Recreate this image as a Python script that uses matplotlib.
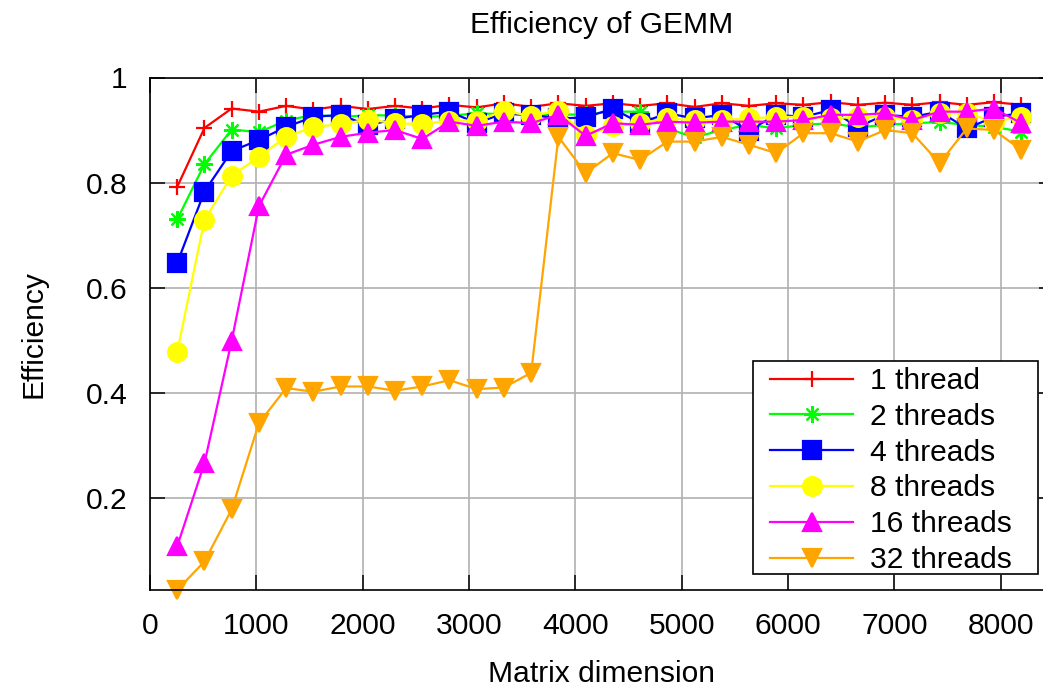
import matplotlib
matplotlib.use('Agg')
import matplotlib.pyplot as plt
from matplotlib.patches import Rectangle

plt.rcParams['font.family'] = ['Liberation Sans', 'DejaVu Sans']
plt.rcParams['font.size'] = 21.6

# matrix dimension
sizes = [256, 512, 768, 1024, 1280, 1536, 1792, 2048, 2304, 2560, 2816, 3072,
         3328, 3584, 3840, 4096, 4352, 4608, 4864, 5120, 5376, 5632, 5888, 6144,
         6400, 6656, 6912, 7168, 7424, 7680, 7936, 8192]

eff_1 = [0.792, 0.904, 0.941, 0.935, 0.946, 0.939, 0.946, 0.940, 0.946, 0.941, 0.948, 0.943,
         0.951, 0.944, 0.951, 0.946, 0.951, 0.946, 0.951, 0.944, 0.951, 0.946, 0.951, 0.948,
         0.953, 0.948, 0.952, 0.948, 0.953, 0.948, 0.953, 0.948]
eff_2 = [0.730, 0.835, 0.901, 0.896, 0.918, 0.929, 0.925, 0.928, 0.928, 0.925, 0.927, 0.932,
         0.930, 0.928, 0.929, 0.930, 0.935, 0.935, 0.903, 0.886, 0.900, 0.910, 0.903, 0.910,
         0.913, 0.905, 0.910, 0.913, 0.915, 0.910, 0.906, 0.897]
eff_4 = [0.647, 0.783, 0.860, 0.881, 0.906, 0.925, 0.929, 0.909, 0.921, 0.929, 0.935, 0.913,
         0.932, 0.929, 0.922, 0.924, 0.941, 0.913, 0.932, 0.922, 0.929, 0.899, 0.929, 0.925,
         0.938, 0.906, 0.929, 0.925, 0.935, 0.903, 0.925, 0.932]
eff_8 = [0.478, 0.729, 0.813, 0.849, 0.887, 0.906, 0.911, 0.920, 0.913, 0.911, 0.918, 0.918,
         0.936, 0.927, 0.937, 0.890, 0.907, 0.913, 0.922, 0.919, 0.919, 0.922, 0.925, 0.925,
         0.922, 0.925, 0.925, 0.919, 0.932, 0.932, 0.916, 0.925]
eff_16 = [0.108, 0.266, 0.499, 0.755, 0.853, 0.872, 0.887, 0.895, 0.900, 0.883, 0.916, 0.908,
          0.916, 0.913, 0.929, 0.889, 0.913, 0.910, 0.916, 0.914, 0.916, 0.916, 0.916, 0.919,
          0.929, 0.929, 0.932, 0.919, 0.935, 0.935, 0.941, 0.913]
eff_32 = [0.0247, 0.079, 0.178, 0.342, 0.409, 0.402, 0.412, 0.412, 0.404, 0.412, 0.424, 0.407,
          0.410, 0.438, 0.887, 0.818, 0.856, 0.843, 0.878, 0.878, 0.887, 0.872, 0.856, 0.894,
          0.894, 0.878, 0.900, 0.894, 0.837, 0.903, 0.900, 0.862]

series = [
    ('1 thread', eff_1, '#ff0000', '+', 11.5),
    ('2 threads', eff_2, '#00ff00', (8, 2, 0), 12),
    ('4 threads', eff_4, '#0000ff', 's', 13),
    ('8 threads', eff_8, '#ffff00', 'o', 13.5),
    ('16 threads', eff_16, '#ff00ff', '^', 13),
    ('32 threads', eff_32, '#ffa500', 'v', 13),
]

W, H = 1043, 690
fig = plt.figure(figsize=(W / 100, H / 100), dpi=100)
# plot area runs a bit past the right edge of the picture, like the original
ax = fig.add_axes([150 / W, 1 - 590 / H, (1054 - 150) / W, (590 - 77.5) / H])

for label, vals, col, mk, ms in series:
    ax.plot(sizes, vals, color=col, marker=mk, markersize=ms, linewidth=1.6,
            markeredgewidth=1.6, markeredgecolor=col, label=label, clip_on=False)

ax.set_xlim(0, 8500)
ax.set_ylim(0.0247, 1)
ax.set_xticks(range(0, 8001, 1000))
ax.set_yticks([0.2, 0.4, 0.6, 0.8, 1.0])
ax.set_yticklabels(['0.2', '0.4', '0.6', '0.8', '1'])

ax.set_axisbelow(True)
ax.grid(True, color='#b0b0b0', linewidth=1.2)
ax.tick_params(direction='in', length=10.8, width=1.1, top=True, right=True,
               pad=16, labelsize=21.6)
for sp in ax.spines.values():
    sp.set_linewidth(1.2)

ax.set_title('Efficiency of GEMM', pad=32, fontsize=21.6)
ax.set_xlabel('Matrix dimension', labelpad=14)
ax.set_ylabel('Efficiency', labelpad=28)

# key box (gnuplot style, wider padding than matplotlib's frame)
box = Rectangle((753 / W, 1 - 574 / H), (1038 - 753) / W, (574 - 361) / H,
                transform=fig.transFigure, facecolor='white', edgecolor='black',
                linewidth=1.2, zorder=4, clip_on=False)
ax.add_patch(box)
leg = ax.legend(loc='upper left', bbox_to_anchor=(770 / W, 1 - 367 / H),
                bbox_transform=fig.transFigure, borderaxespad=0, frameon=False,
                fontsize=21.6, handlelength=2.77, handletextpad=0.55,
                labelspacing=0.26, borderpad=0)
leg.set_zorder(5)

fig.savefig('out.png', dpi=100)
